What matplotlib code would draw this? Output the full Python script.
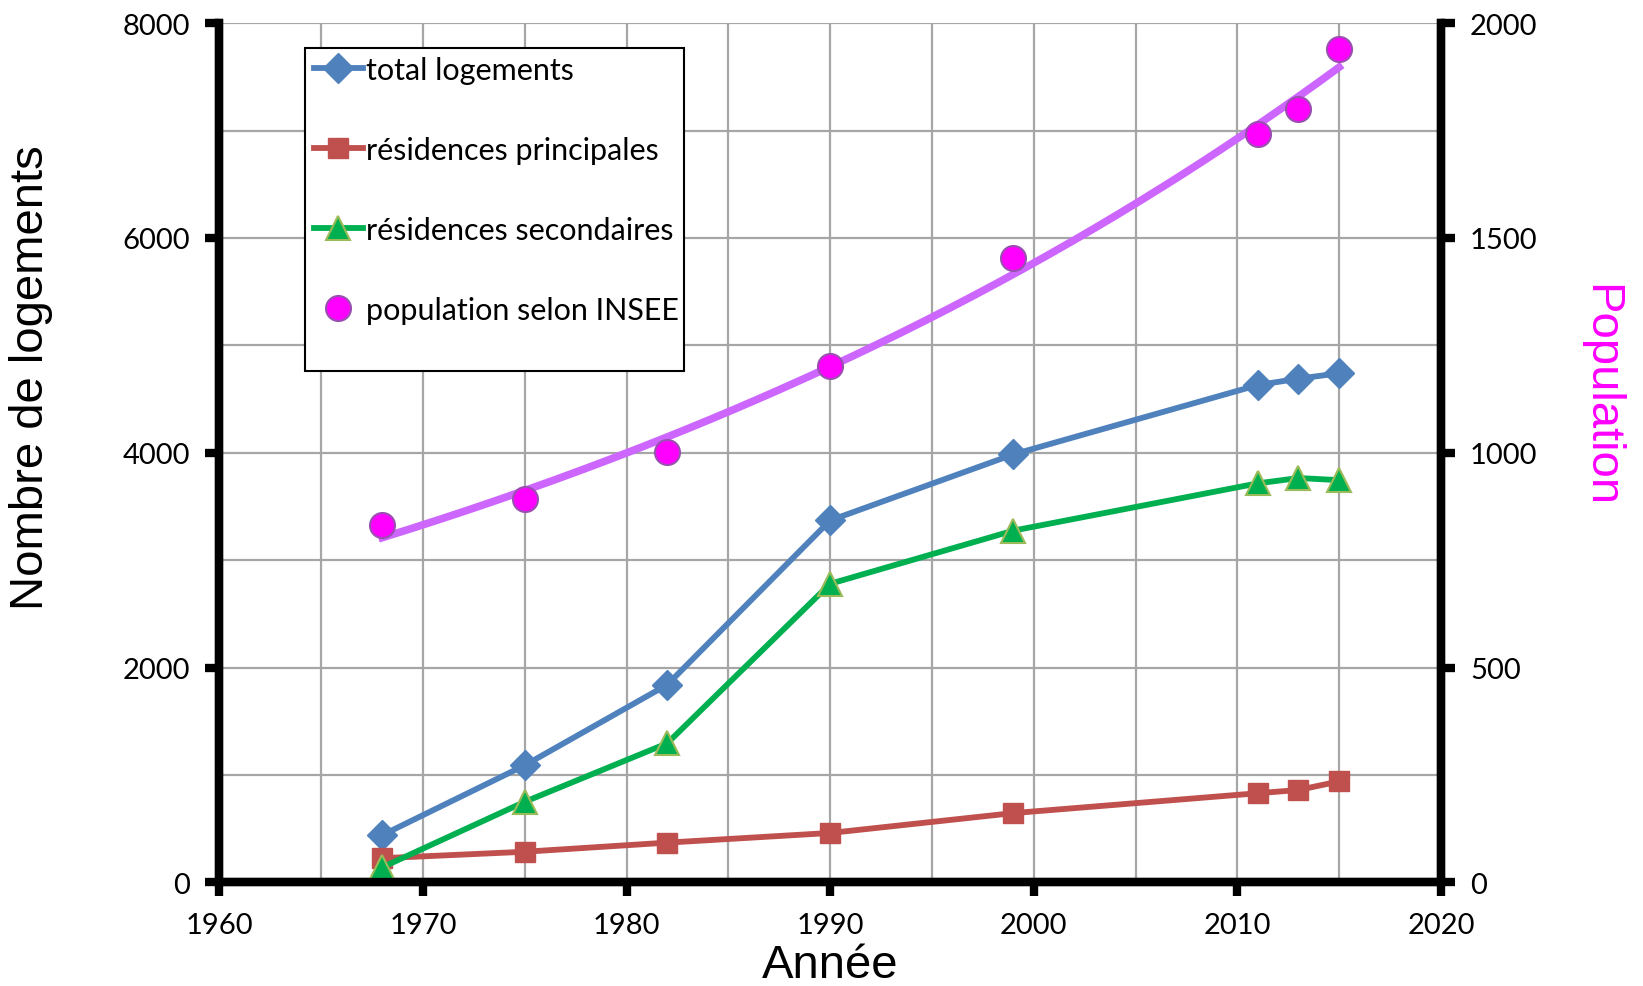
import matplotlib.pyplot as plt
import numpy as np
from matplotlib.ticker import MultipleLocator
from matplotlib.patches import Rectangle

# Données
annees = [1968, 1975, 1982, 1990, 1999, 2011, 2013, 2015]
total_logements = [440, 1090, 1840, 3370, 3985, 4630, 4690, 4740]
res_principales = [225, 285, 370, 460, 645, 830, 860, 940]
res_secondaires = [140, 750, 1295, 2780, 3275, 3715, 3765, 3745]
population = [831, 892, 1001, 1203, 1454, 1742, 1800, 1939]

fig = plt.figure(figsize=(16.43, 9.87), dpi=100)
ax1 = fig.add_axes([0.1335, 0.105, 0.7435, 0.8705])
ax2 = ax1.twinx()

tick_font = 'Lato'
label_font = 'Liberation Sans'

# Séries logements
l1, = ax1.plot(annees, total_logements, color='#4F81BD', lw=4.2, marker='D',
               ms=15, mfc='#4F81BD', mec='#4F81BD', label='total logements', zorder=4)
l2, = ax1.plot(annees, res_principales, color='#C0504D', lw=4.2, marker='s',
               ms=15, mfc='#C0504D', mec='#C0504D', label='résidences principales', zorder=4)
l3, = ax1.plot(annees, res_secondaires, color='#00B050', lw=4.2, marker='^',
               ms=17, mfc='#00B050', mec='#9BBB59', mew=1.5,
               label='résidences secondaires', zorder=5)

# Population + courbe de tendance exponentielle
x = np.array(annees, dtype=float)
coef = np.polyfit(x, np.log(population), 1)
xt = np.linspace(x[0], x[-1], 200)
ax2.plot(xt, np.exp(np.polyval(coef, xt)), color='#CC66FF', lw=5.5, zorder=3)
l4, = ax2.plot(annees, population, ls='none', marker='o', ms=18,
               mfc='#FF00FF', mec='#9A4FB0', mew=1.5,
               label='population selon INSEE', zorder=4)

ax1.set_xlim(1960, 2020)
ax1.set_ylim(0, 8000)
ax2.set_ylim(0, 2000)
ax1.xaxis.set_major_locator(MultipleLocator(10))
ax1.xaxis.set_minor_locator(MultipleLocator(5))
ax1.yaxis.set_major_locator(MultipleLocator(2000))
ax1.yaxis.set_minor_locator(MultipleLocator(1000))
ax2.yaxis.set_major_locator(MultipleLocator(500))

ax1.grid(which='both', color='#A6A6A6', lw=1.6)
ax1.set_axisbelow(True)

for ax in (ax1, ax2):
    for side in ('left', 'right', 'bottom'):
        ax.spines[side].set_linewidth(6)
        ax.spines[side].set_color('black')
    ax.spines['top'].set_visible(False)
    ax.tick_params(which='major', direction='out', length=10, width=6,
                   labelsize=21, pad=11)
    ax.tick_params(which='minor', length=0)
    for lab in ax.get_xticklabels() + ax.get_yticklabels():
        lab.set_fontfamily(tick_font)

ax1.set_xlabel('Année', fontsize=34, family=label_font, labelpad=4)
ax1.set_ylabel('Nombre de logements', fontsize=34, family=label_font,
               va='center', ha='center')
ax1.yaxis.set_label_coords(-0.154, 0.589)
ax2.set_ylabel('Population', fontsize=34, family=label_font, color='#FF00FF',
               rotation=-90, va='center', ha='center')
ax2.yaxis.set_label_coords(1.130, 0.568)

# Cadre de la légende
ax2.add_patch(Rectangle((0.0704, 0.595), 0.3096, 0.376, transform=ax2.transAxes,
                        facecolor='white', edgecolor='black', lw=1.5, zorder=9))
leg = ax2.legend(handles=[l1, l2, l3, l4], loc='upper left',
                 bbox_to_anchor=(0.0775, 0.962), frameon=False,
                 borderpad=0, borderaxespad=0,
                 labelspacing=1.7, handlelength=1.6, handletextpad=0.1,
                 prop={'family': tick_font, 'size': 22})
leg.set_zorder(10)

fig.savefig('out.png', dpi=100)
